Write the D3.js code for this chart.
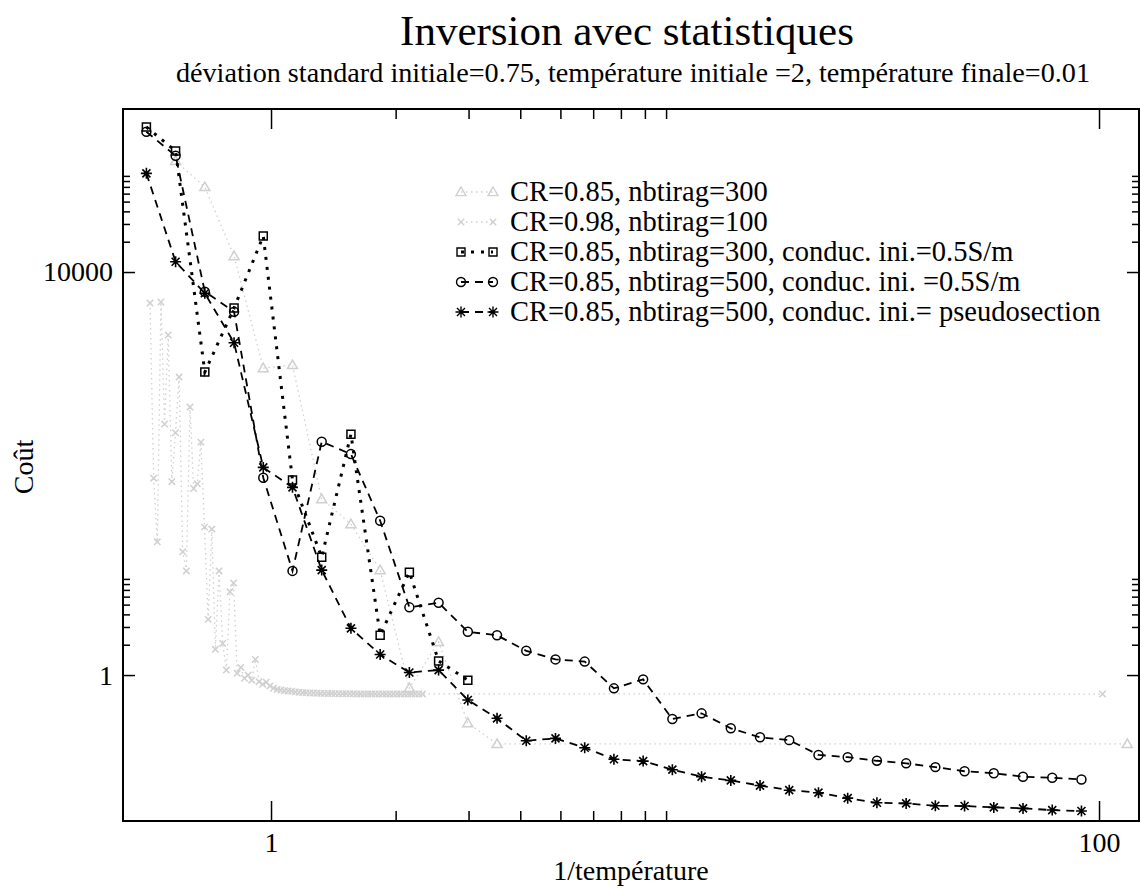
<!DOCTYPE html>
<html><head><meta charset="utf-8">
<script src="https://cdn.jsdelivr.net/npm/d3@7"></script>
<style>body{margin:0;background:#fff}svg text{font-family:"Liberation Serif","Times New Roman",serif;fill:#000}</style>
</head><body><svg id="c" width="1141" height="889"></svg>
<script>
// ---------- data ----------
const titleText = "Inversion avec statistiques";
const subtitleText = "déviation standard initiale=0.75, température initiale =2, température finale=0.01";
const xLabel = "1/température";
const yLabel = "Coût";
const xMajorTicks = [1, 100];
const xMinorTicks = [2, 3, 4, 5, 6, 7, 8, 9];
const yMajorTicks = [1, 10000];
const yMinorTicks = [2, 3, 4, 5, 6, 7, 8, 9, 20000, 30000, 40000, 50000, 60000, 70000, 80000, 90000];
const legendLabels = [
  "CR=0.85, nbtirag=300",
  "CR=0.98, nbtirag=100",
  "CR=0.85, nbtirag=300, conduc. ini.=0.5S/m",
  "CR=0.85, nbtirag=500, conduc. ini. =0.5S/m",
  "CR=0.85, nbtirag=500, conduc. ini.= pseudosection"
];
// 1/temperature (CR=0.85 schedule)
const invT085 = [0.5, 0.5882, 0.6920, 0.8142, 0.9578, 1.1269, 1.3257, 1.5597, 1.8349, 2.1587, 2.5397,
  2.9879, 3.5152, 4.1355, 4.8653, 5.7239, 6.7340, 7.9224, 9.3204, 10.965, 12.900, 15.177, 17.855,
  21.006, 24.713, 29.074, 34.205, 40.241, 47.342, 55.697, 65.525, 77.089, 90.693];
// series 1 : CR=0.85, nbtirag=300 (triangles)
const triX = [0.5882, 0.6920, 0.8142, 0.9578, 1.1269, 1.3257, 1.5597, 1.8349, 2.1587, 2.5397, 2.9879, 3.5152, 117];
const triY = [126500, 69800, 14400, 1114, 1194, 55.8, 31.5, 11.0, 0.743, 2.13, 0.334, 0.207, 0.207];
// series 2 : CR=0.98, nbtirag=100 (crosses)
const crossX = [0.5102, 0.5206, 0.5313, 0.5421, 0.5532, 0.5645, 0.5760, 0.5877, 0.5997, 0.6120,
  0.6245, 0.6372, 0.6502, 0.6635, 0.6770, 0.6908, 0.7049, 0.7193, 0.7340, 0.7490,
  0.7643, 0.7799, 0.7958, 0.8120, 0.8286, 0.8455, 0.8628, 0.8804, 0.8983, 0.9167,
  0.9354, 0.9545, 0.9740, 0.9939, 1.0141, 1.0348, 1.0559, 1.0775, 1.0995, 1.1219,
  1.1448, 1.1682, 1.1920, 1.2163, 1.2412, 1.2665, 1.2923, 1.3187, 1.3456, 1.3731,
  1.4011, 1.4297, 1.4589, 1.4886, 1.5190, 1.5500, 1.5816, 1.6139, 1.6469, 1.6805,
  1.7148, 1.7498, 1.7855, 1.8219, 1.8591, 1.8970, 1.9357, 1.9752, 2.0155, 2.0567,
  2.0987, 2.1415, 2.1852, 2.2298, 2.2753, 2.3217, 102];
const crossY = [4920, 90, 21, 5040, 310, 2370, 83, 254, 907, 16.7,
  10.8, 457, 71, 79, 205, 29.4, 3.57, 28.1, 1.80, 10.8,
  2.06, 1.12, 6.7, 8.2, 1.04, 1.19, 0.93, 1.0, 0.89, 1.43,
  0.86, 0.81, 0.85, 0.78, 0.74, 0.72, 0.71, 0.70, 0.695, 0.69,
  0.68, 0.675, 0.67, 0.667, 0.664, 0.662, 0.66, 0.658, 0.657, 0.656,
  0.655, 0.654, 0.653, 0.652, 0.652, 0.651, 0.651, 0.65, 0.65, 0.65,
  0.65, 0.65, 0.65, 0.65, 0.65, 0.65, 0.65, 0.65, 0.65, 0.65,
  0.65, 0.65, 0.65, 0.65, 0.65, 0.65, 0.648];
// series 3 : conduc. ini.=0.5S/m, nbtirag=300 (squares)
const sqY = [275000, 159000, 1017, 4390, 22800, 86.2, 14.8, 246, 2.49, 10.5, 1.38, 0.89];
// series 4 : conduc. ini.=0.5S/m, nbtirag=500 (circles)
const circY = [247000, 142600, 6380, 4036, 90.8, 10.8, 207, 156, 34.0, 4.70, 5.22, 2.69, 2.48,
  1.74, 1.43, 1.36, 0.738, 0.906, 0.366, 0.417, 0.296, 0.241, 0.226, 0.161, 0.153, 0.141,
  0.133, 0.122, 0.111, 0.106, 0.098, 0.0957, 0.092];
// series 5 : conduc. ini.= pseudosection (stars)
const starY = [95400, 12650, 6150, 1987, 115, 72.9, 11.0, 2.91, 1.60, 1.06, 1.12, 0.565, 0.372,
  0.223, 0.235, 0.190, 0.146, 0.14, 0.115, 0.098, 0.09, 0.08, 0.072, 0.068, 0.06,
  0.054, 0.0532, 0.0504, 0.0501, 0.0486, 0.0475, 0.0457, 0.0447];

// ---------- layout ----------
const L = 123, R = 1139, T = 109, B = 821;
const svg = d3.select("#c");
const x = d3.scaleLog().domain([0.439, 124.9]).range([L, R]);
const y = d3.scaleLog().domain([0.0356, 415000]).range([B, T]);
const GREY = "#d0d0d0";

const series = [
  {name: legendLabels[0], xs: triX, ys: triY, color: GREY, width: 1.3, dash: "1.5,3.5", marker: "tri", mcolor: GREY},
  {name: legendLabels[1], xs: crossX, ys: crossY, color: GREY, width: 1.3, dash: "1.5,3.5", marker: "cross", mcolor: GREY},
  {name: legendLabels[2], xs: invT085.slice(0, sqY.length), ys: sqY, color: "#000", width: 3, dash: "3,7", marker: "square", mcolor: "#000"},
  {name: legendLabels[3], xs: invT085, ys: circY, color: "#000", width: 1.8, dash: "8,6", marker: "circle", mcolor: "#000"},
  {name: legendLabels[4], xs: invT085, ys: starY, color: "#000", width: 1.8, dash: "8,6", marker: "star", mcolor: "#000"}
];

function markerPath(type) {
  switch (type) {
    case "tri": return "M0,-5L5,3.6L-5,3.6Z";
    case "cross": return "M-3.2,-3.2L3.2,3.2M-3.2,3.2L3.2,-3.2";
    case "square": return "M-4,-4H4V4H-4Z";
    case "circle": return d3.symbol(d3.symbolCircle, 63)();
    case "star": return "M-5.5,0H5.5M0,-5.5V5.5M-4,-4L4,4M-4,4L4,-4";
  }
}

svg.append("defs").append("clipPath").attr("id", "clip")
  .append("rect").attr("x", L).attr("y", T).attr("width", R - L).attr("height", B - T);

// ---------- axes ----------
function styleAxis(g) {
  g.select(".domain").remove();
  g.selectAll("line").attr("stroke", "#000").attr("stroke-width", 1.5);
  g.selectAll("text").style("font-family", '"Liberation Serif", serif').style("font-size", "28px").attr("fill", "#000");
}
const fmt = d3.format("d");
svg.append("g").attr("transform", `translate(0,${B})`)
  .call(d3.axisBottom(x).tickValues(xMajorTicks).tickFormat(fmt).tickSize(-20).tickPadding(11)).call(styleAxis);
svg.append("g").attr("transform", `translate(0,${B})`)
  .call(d3.axisBottom(x).tickValues(xMinorTicks).tickFormat("").tickSize(-10)).call(styleAxis);
svg.append("g").attr("transform", `translate(0,${T})`)
  .call(d3.axisTop(x).tickValues(xMajorTicks).tickFormat("").tickSize(-20)).call(styleAxis);
svg.append("g").attr("transform", `translate(0,${T})`)
  .call(d3.axisTop(x).tickValues(xMinorTicks).tickFormat("").tickSize(-10)).call(styleAxis);
svg.append("g").attr("transform", `translate(${L},0)`)
  .call(d3.axisLeft(y).tickValues(yMajorTicks).tickFormat(fmt).tickSize(-12).tickPadding(10)).call(styleAxis);
svg.append("g").attr("transform", `translate(${L},0)`)
  .call(d3.axisLeft(y).tickValues(yMinorTicks).tickFormat("").tickSize(-7)).call(styleAxis);
svg.append("g").attr("transform", `translate(${R},0)`)
  .call(d3.axisRight(y).tickValues(yMajorTicks).tickFormat("").tickSize(-12)).call(styleAxis);
svg.append("g").attr("transform", `translate(${R},0)`)
  .call(d3.axisRight(y).tickValues(yMinorTicks).tickFormat("").tickSize(-7)).call(styleAxis);

svg.append("rect").attr("x", L).attr("y", T).attr("width", R - L).attr("height", B - T)
  .attr("fill", "none").attr("stroke", "#000").attr("stroke-width", 2);

// ---------- series ----------
const plot = svg.append("g").attr("clip-path", "url(#clip)");
const line = d3.line().x(d => x(d[0])).y(d => y(d[1]));
series.forEach(s => {
  const pts = s.xs.map((v, i) => [v, s.ys[i]]);
  plot.append("path").datum(pts).attr("d", line)
    .attr("fill", "none").attr("stroke", s.color).attr("stroke-width", s.width)
    .attr("stroke-dasharray", s.dash);
  plot.selectAll(null).data(pts).enter().append("path")
    .attr("transform", d => `translate(${x(d[0])},${y(d[1])})`)
    .attr("d", markerPath(s.marker))
    .attr("fill", "none")
    .attr("stroke", s.mcolor).attr("stroke-width", s.marker === "star" ? 1.6 : 1.5);
});

// ---------- legend ----------
const legX1 = 461, legX2 = 493, legTextX = 510, legY0 = 192, legDy = 30;
series.forEach((s, i) => {
  const yy = legY0 + i * legDy;
  const g = svg.append("g");
  g.append("line").attr("x1", legX1).attr("x2", legX2).attr("y1", yy).attr("y2", yy)
    .attr("stroke", s.color).attr("stroke-width", s.width).attr("stroke-dasharray", s.dash);
  [legX1, legX2].forEach(px => g.append("path").attr("transform", `translate(${px},${yy})`)
    .attr("d", markerPath(s.marker)).attr("fill", "none").attr("stroke", s.mcolor).attr("stroke-width", 1.4));
  g.append("text").attr("x", legTextX).attr("y", yy + 9).style("font-size", "28.5px").text(s.name);
});

// ---------- titles ----------
svg.append("text").attr("x", 627).attr("y", 45).attr("text-anchor", "middle").style("font-size", "43px").text(titleText);
svg.append("text").attr("x", 633).attr("y", 82).attr("text-anchor", "middle").style("font-size", "28.2px").text(subtitleText);
svg.append("text").attr("x", 631).attr("y", 880).attr("text-anchor", "middle").style("font-size", "28px").text(xLabel);
svg.append("text").attr("transform", `translate(33,467) rotate(-90)`).attr("text-anchor", "middle").style("font-size", "28px").text(yLabel);
</script></body></html>
